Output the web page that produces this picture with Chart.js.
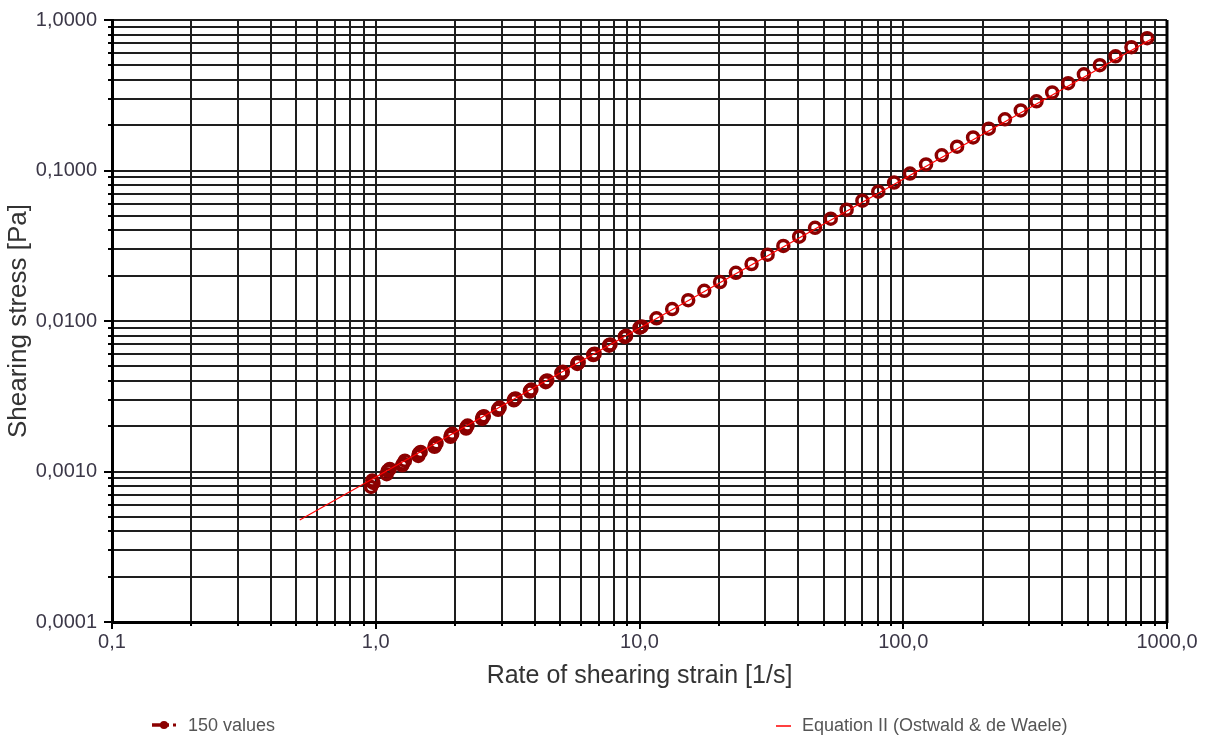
<!DOCTYPE html>
<html>
<head>
<meta charset="utf-8">
<script src="https://cdn.jsdelivr.net/npm/chart.js@4.4.1/dist/chart.umd.min.js"></script>
<style>
  html, body { margin: 0; padding: 0; background: #fff; }
  #wrap { position: relative; width: 1206px; height: 738px; overflow: hidden; }
  #legend { position: absolute; left: 0; top: 0; width: 1206px; height: 738px; pointer-events: none;
            font-family: "Liberation Sans", Arial, sans-serif; font-size: 18px; color: #555; }
  .item { position: absolute; top: 714px; height: 22px; line-height: 22px; display: flex; align-items: center; white-space: nowrap; }
  .item svg { display: block; }
</style>
</head>
<body>
<div id="wrap">
  <canvas id="c" width="1206" height="738"></canvas>
  <div id="legend"></div>
</div>
<script>
// Measured flow curve: rate of shearing strain [1/s] vs shearing stress [Pa]
const rateOfStrain = [0.97, 1.11, 1.27, 1.46, 1.68, 1.93, 2.21, 2.54, 2.92, 3.35,
  3.85, 4.42, 5.07, 5.82, 6.69, 7.68, 8.81, 10.1, 11.6, 13.3,
  15.3, 17.6, 20.2, 23.2, 26.6, 30.6, 35.1, 40.3, 46.3, 53.1,
  61.0, 70.0, 80.4, 92.3, 106, 122, 140, 160, 184, 211,
  243, 279, 320, 367, 422, 484, 556, 638, 733, 841];
const shearStress = [0.00087, 0.00101, 0.00113, 0.00132, 0.00150, 0.00175, 0.00198, 0.00230, 0.00262, 0.00303,
  0.00345, 0.00399, 0.00455, 0.00525, 0.00601, 0.00693, 0.00790, 0.00912, 0.01041, 0.01200,
  0.01374, 0.01586, 0.01815, 0.02090, 0.02391, 0.02757, 0.03156, 0.03631, 0.04163, 0.04784,
  0.05487, 0.06306, 0.07230, 0.08310, 0.0954, 0.1097, 0.1261, 0.1439, 0.1657, 0.1897,
  0.2188, 0.2509, 0.2882, 0.3301, 0.3800, 0.4354, 0.5006, 0.5740, 0.6600, 0.7570];

// Repeat runs at the low end of the range (scatter is largest there)
const rateRepeat = [0.96, 0.98, 1.10, 1.13, 1.26, 1.29, 1.45, 1.48, 1.67, 1.70,
  1.92, 1.95, 2.20, 2.23, 2.53, 2.57, 2.91, 2.95, 3.34, 3.39,
  3.84, 3.89, 4.41, 4.47, 5.06, 5.12, 5.81, 5.88, 6.68, 6.76,
  7.67, 7.76, 8.80, 8.90, 10.0, 10.2];
const stressRepeat = [0.00079, 0.00084, 0.00096, 0.00104, 0.00110, 0.00118, 0.00127, 0.00135, 0.00146, 0.00154,
  0.00170, 0.00178, 0.00193, 0.00202, 0.00224, 0.00233, 0.00257, 0.00266, 0.00297, 0.00306,
  0.00340, 0.00350, 0.00392, 0.00403, 0.00449, 0.00460, 0.00518, 0.00530, 0.00594, 0.00607,
  0.00686, 0.00699, 0.00783, 0.00797, 0.00902, 0.00921];

// Ostwald & de Waele fit (power law, straight on log-log axes)
const fitRate = [0.515, 887];
const fitStress = [0.000476, 0.759];

const xDecades = [0.1, 1, 10, 100, 1000];
const xTickLabels = ['0,1', '1,0', '10,0', '100,0', '1000,0'];
const yDecades = [0.0001, 0.001, 0.01, 0.1, 1];
const yTickLabels = ['0,0001', '0,0010', '0,0100', '0,1000', '1,0000'];

const seriesLabels = ['150 values', 'Equation II (Ostwald & de Waele)'];
const axisTitles = ['Rate of shearing strain [1/s]', 'Shearing stress [Pa]'];

const FONT = '"Liberation Sans", Arial, sans-serif';
const MARKER = '#8b0000';
const FIT = '#ff0000';

Chart.defaults.font.family = FONT;

// 1..9 x each decade, closing with the last decade
function logTicks(decades) {
  const out = [];
  decades.forEach((d, i) => {
    if (i === decades.length - 1) { out.push({ value: d }); return; }
    for (let m = 1; m <= 9; m++) out.push({ value: +(d * m).toPrecision(8) });
  });
  return out;
}
function decadeIndex(decades, v) {
  return decades.findIndex(d => Math.abs(v / d - 1) < 1e-6);
}

const points = rateOfStrain.map((x, i) => ({ x, y: shearStress[i] }))
  .concat(rateRepeat.map((x, i) => ({ x, y: stressRepeat[i] })));
const fitLine = fitRate.map((x, i) => ({ x, y: fitStress[i] }));

// Outer tick marks and the right-hand frame edge
const frameTicks = {
  id: 'frameTicks',
  afterDraw(chart) {
    const { ctx, chartArea: a, scales: { x, y } } = chart;
    ctx.save();
    ctx.strokeStyle = '#000';
    ctx.lineWidth = 2;
    ctx.beginPath();
    y.ticks.forEach(t => {
      const py = Math.round(y.getPixelForValue(t.value));
      const len = decadeIndex(yDecades, t.value) >= 0 ? 8 : 4;
      ctx.moveTo(a.left - len, py);
      ctx.lineTo(a.left, py);
    });
    x.ticks.forEach(t => {
      const px = Math.round(x.getPixelForValue(t.value));
      const len = decadeIndex(xDecades, t.value) >= 0 ? 7 : 4;
      ctx.moveTo(px, a.bottom);
      ctx.lineTo(px, a.bottom + len);
    });
    ctx.stroke();
    ctx.lineWidth = 3;
    ctx.beginPath();
    ctx.moveTo(a.right, a.top);
    ctx.lineTo(a.right, a.bottom + 1);
    ctx.stroke();
    ctx.restore();
  }
};

new Chart(document.getElementById('c'), {
  type: 'scatter',
  data: {
    datasets: [
      {
        label: seriesLabels[1],
        type: 'line',
        data: fitLine,
        borderColor: FIT,
        borderWidth: 1.2,
        pointRadius: 0,
        fill: false,
        order: 0
      },
      {
        label: seriesLabels[0],
        data: points,
        pointStyle: 'circle',
        pointRadius: 5.5,
        borderWidth: 3.5,
        borderColor: MARKER,
        backgroundColor: 'rgba(255,255,255,0)',
        order: 1
      }
    ]
  },
  options: {
    responsive: false,
    animation: false,
    devicePixelRatio: 1,
    layout: { padding: { left: 0, top: 20, right: 39, bottom: 0 } },
    plugins: { legend: { display: false }, tooltip: { enabled: false } },
    scales: {
      x: {
        type: 'logarithmic',
        position: 'bottom',
        min: xDecades[0],
        max: xDecades[xDecades.length - 1],
        afterFit(s) { s.height = 116; s.paddingLeft = 0; s.paddingRight = 0; },
        afterBuildTicks(s) { s.ticks = logTicks(xDecades); },
        grid: { color: '#1e1e1e', lineWidth: 2, drawTicks: false },
        border: { display: true, color: '#000', width: 3 },
        ticks: {
          autoSkip: false, maxRotation: 0, minRotation: 0, padding: 8,
          color: '#3b3747', font: { size: 20 },
          callback: v => { const i = decadeIndex(xDecades, v); return i >= 0 ? xTickLabels[i] : ''; }
        },
        title: {
          display: true, text: axisTitles[0], color: '#333',
          font: { size: 25 }, padding: { top: 0, bottom: 47 }
        }
      },
      y: {
        type: 'logarithmic',
        position: 'left',
        min: yDecades[0],
        max: yDecades[yDecades.length - 1],
        afterFit(s) { s.width = 112; s.paddingTop = 0; s.paddingBottom = 0; },
        afterBuildTicks(s) { s.ticks = logTicks(yDecades); },
        grid: { color: '#1e1e1e', lineWidth: 2, drawTicks: false },
        border: { display: true, color: '#000', width: 3 },
        ticks: {
          autoSkip: false, padding: 15,
          color: '#3b3747', font: { size: 20 },
          callback: v => { const i = decadeIndex(yDecades, v); return i >= 0 ? yTickLabels[i] : ''; }
        },
        title: {
          display: true, text: axisTitles[1], color: '#333',
          font: { size: 26 }, padding: { top: 3, bottom: 0 }
        }
      }
    }
  },
  plugins: [frameTicks]
});

// Legend row under the plot
const legend = document.getElementById('legend');
legend.innerHTML =
  '<div class="item" style="left:152px">' +
    '<svg width="28" height="12"><line x1="0" y1="6" x2="17" y2="6" stroke="' + MARKER + '" stroke-width="3.5"/>' +
    '<circle cx="12" cy="6" r="4" fill="' + MARKER + '"/><rect x="21" y="4.5" width="3" height="3" fill="' + MARKER + '"/></svg>' +
    '<span style="margin-left:8px">' + seriesLabels[0] + '</span></div>' +
  '<div class="item" style="left:776px">' +
    '<svg width="15" height="12"><line x1="0" y1="7" x2="15" y2="7" stroke="' + FIT + '" stroke-width="1.5"/></svg>' +
    '<span style="margin-left:11px">' + seriesLabels[1] + '</span></div>';
</script>
</body>
</html>
